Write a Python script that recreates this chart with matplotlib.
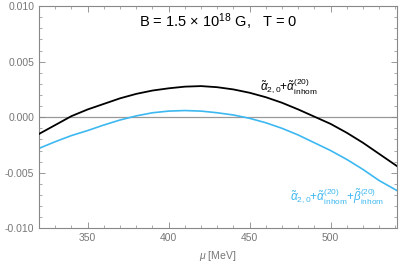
import matplotlib
matplotlib.use("Agg")
import matplotlib.pyplot as plt
from matplotlib.ticker import MultipleLocator, FormatStrFormatter

plt.rcParams['font.family'] = ['Liberation Sans', 'DejaVu Sans']
plt.rcParams['mathtext.fontset'] = 'custom'
plt.rcParams['mathtext.rm'] = 'Liberation Sans'
plt.rcParams['mathtext.it'] = 'Liberation Sans:italic'

mu = [320, 330, 340, 350, 360, 370, 380, 390, 400, 410, 420, 430, 440,
      450, 460, 470, 480, 490, 500, 510, 520, 530, 541]
alpha_sum = [-0.0015, -0.0007, 0.0001, 0.0007, 0.0012, 0.0017, 0.0021, 0.0024,
             0.0026, 0.00275, 0.0028, 0.0027, 0.0025, 0.0022, 0.0018, 0.0013,
             0.0007, 0.00005, -0.0006, -0.0014, -0.0023, -0.0033, -0.0044]
alpha_beta_sum = [-0.0028, -0.0022, -0.00165, -0.0012, -0.0007, -0.00025,
                  0.00012, 0.0004, 0.00055, 0.0006, 0.00055, 0.0004, 0.0002,
                  -0.0001, -0.0005, -0.0010, -0.0016, -0.0023, -0.0030,
                  -0.0038, -0.0047, -0.0057, -0.0066]

gray = '#888888'
blue = '#3db8f0'

fig = plt.figure(figsize=(3.99, 2.64), dpi=100)
ax = fig.add_axes([0.098, 0.135, 0.897, 0.842])
ax.axhline(0, color='#999999', lw=0.9, zorder=1)
ax.plot(mu, alpha_sum, color='black', lw=1.3, zorder=3)
ax.plot(mu, alpha_beta_sum, color=blue, lw=1.2, zorder=2)

ax.set_xlim(320, 541)
ax.set_ylim(-0.010, 0.010)
ax.xaxis.set_major_locator(MultipleLocator(50))
ax.xaxis.set_minor_locator(MultipleLocator(10))
ax.yaxis.set_major_locator(MultipleLocator(0.005))
ax.yaxis.set_minor_locator(MultipleLocator(0.001))
ax.yaxis.set_major_formatter(FormatStrFormatter('%.3f'))
ax.tick_params(which='both', direction='in', top=True, right=True,
               colors=gray, labelcolor='#777777', labelsize=7.5)
ax.tick_params(which='major', length=4, width=0.6)
ax.tick_params(which='minor', length=2, width=0.5)
for s in ax.spines.values():
    s.set_color(gray)
    s.set_linewidth(0.8)

ax.set_xlabel(r'$\mathit{\mu}$ [MeV]', color='#777777', fontsize=7.5, labelpad=4)
ax.text(0.5, 0.928, r'B = 1.5 × 10$^{18}$ G,   T = 0', transform=ax.transAxes,
        ha='center', va='center', fontsize=10.5)
ax.text(474, 0.0027, r'$\tilde{\alpha}_{2,0}$+$\tilde{\alpha}^{(20)}_{\rm inhom}$',
        ha='center', va='center', fontsize=8.5, color='black')
ax.text(504, -0.0072,
        r'$\tilde{\alpha}_{2,0}$+$\tilde{\alpha}^{(20)}_{\rm inhom}$+$\tilde{\beta}^{(20)}_{\rm inhom}$',
        ha='center', va='center', fontsize=8.5, color=blue)

fig.savefig('out.png', dpi=100)
